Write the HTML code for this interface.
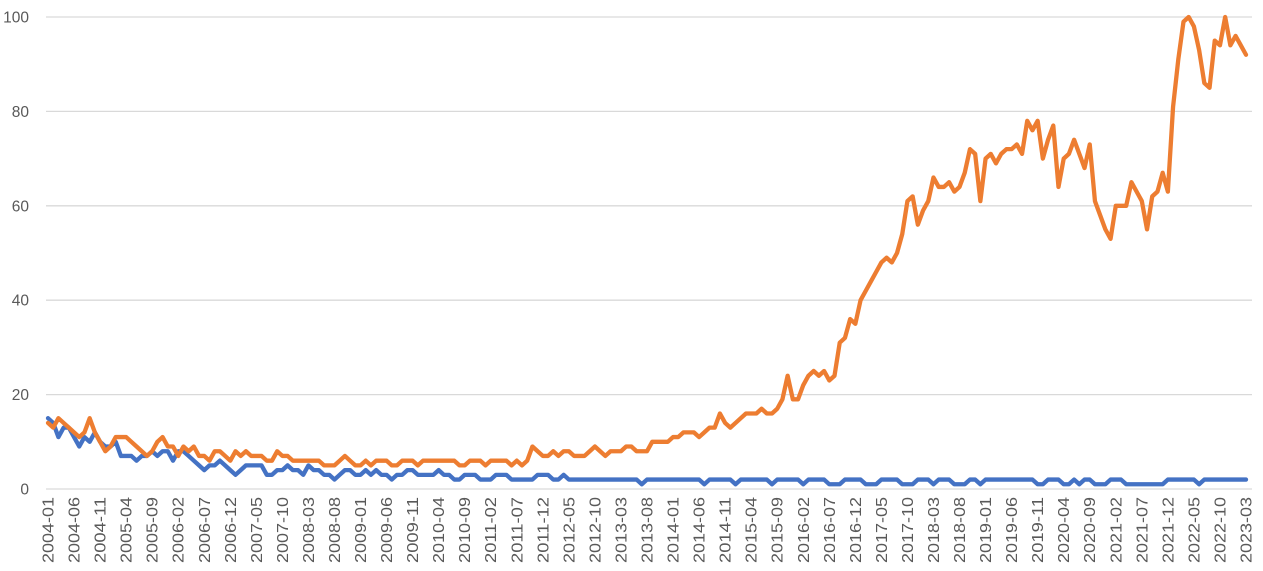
<!DOCTYPE html>
<html><head><meta charset="utf-8"><style>
html,body{margin:0;padding:0;background:#fff;}
svg{display:block;font-family:"Liberation Sans",sans-serif;}
</style></head><body>
<svg id="chart" width="1263" height="571" viewBox="0 0 1263 571">
<g id="grid"></g>
<g id="ylab"></g>
<g id="xlab"></g>
<g id="series"></g>
</svg>
<script>
const yTicks=[0,20,40,60,80,100];
const startYear=2004, startMonth=1, monthCount=231;
const blueValues=[15,14,11,13,13,11,9,11,10,12,10,9,9,10,7,7,7,6,7,7,8,7,8,8,6,8,8,7,6,5,4,5,5,6,5,4,3,4,5,5,5,5,3,3,4,4,5,4,4,3,5,4,4,3,3,2,3,4,4,3,3,4,3,4,3,3,2,3,3,4,4,3,3,3,3,4,3,3,2,2,3,3,3,2,2,2,3,3,3,2,2,2,2,2,3,3,3,2,2,3,2,2,2,2,2,2,2,2,2,2,2,2,2,2,1,2,2,2,2,2,2,2,2,2,2,2,1,2,2,2,2,2,1,2,2,2,2,2,2,1,2,2,2,2,2,1,2,2,2,2,1,1,1,2,2,2,2,1,1,1,2,2,2,2,1,1,1,2,2,2,1,2,2,2,1,1,1,2,2,1,2,2,2,2,2,2,2,2,2,2,1,1,2,2,2,1,1,2,1,2,2,1,1,1,2,2,2,1,1,1,1,1,1,1,1,2,2,2,2,2,2,1,2,2,2,2,2,2,2,2,2];
const orangeValues=[14,13,15,14,13,12,11,12,15,12,10,8,9,11,11,11,10,9,8,7,8,10,11,9,9,7,9,8,9,7,7,6,8,8,7,6,8,7,8,7,7,7,6,6,8,7,7,6,6,6,6,6,6,5,5,5,6,7,6,5,5,6,5,6,6,6,5,5,6,6,6,5,6,6,6,6,6,6,6,5,5,6,6,6,5,6,6,6,6,5,6,5,6,9,8,7,7,8,7,8,8,7,7,7,8,9,8,7,8,8,8,9,9,8,8,8,10,10,10,10,11,11,12,12,12,11,12,13,13,16,14,13,14,15,16,16,16,17,16,16,17,19,24,19,19,22,24,25,24,25,23,24,31,32,36,35,40,42,44,46,48,49,48,50,54,61,62,56,59,61,66,64,64,65,63,64,67,72,71,61,70,71,69,71,72,72,73,71,78,76,78,70,74,77,64,70,71,74,71,68,73,61,58,55,53,60,60,60,65,63,61,55,62,63,67,63,81,91,99,100,98,93,86,85,95,94,100,94,96,94,92];
const X0=48,X1=1246,Y0=489,Y100=17;
const xs=i=>X0+(X1-X0)*i/(monthCount-1);
const ys=v=>Y0-(Y0-Y100)*v/100;
const NS="http://www.w3.org/2000/svg";
const grid=document.getElementById('grid'),ylab=document.getElementById('ylab'),xlab=document.getElementById('xlab'),series=document.getElementById('series');
yTicks.forEach(t=>{
  const l=document.createElementNS(NS,'line');
  
  
  l.setAttribute('x1',46);l.setAttribute('x2',1252);
  l.setAttribute('y1',ys(t));l.setAttribute('y2',ys(t));
  l.setAttribute('stroke','#d9d9d9');l.setAttribute('stroke-width','1.3');
  grid.appendChild(l);
  const tx=document.createElementNS(NS,'text');
  
  
  tx.setAttribute('x',29);tx.setAttribute('y',ys(t)+5.5);
  tx.setAttribute('text-anchor','end');tx.setAttribute('font-size','15.5');tx.setAttribute('fill','#595959');
  tx.textContent=t;ylab.appendChild(tx);
});
for(let i=0;i<monthCount;i+=5){
  const m=startMonth-1+i, y=startYear+Math.floor(m/12), mo=m%12+1;
  const lbl=y+'-'+(mo<10?'0':'')+mo;
  const tx=document.createElementNS(NS,'text');
  
  
  const x=xs(i)+5.5;
  tx.setAttribute('transform','translate('+x+',497) rotate(-90)');
  tx.setAttribute('text-anchor','end');tx.setAttribute('font-size','15.5');tx.setAttribute('fill','#595959');
  tx.setAttribute('textLength','66');tx.setAttribute('lengthAdjust','spacingAndGlyphs');
  tx.textContent=lbl;xlab.appendChild(tx);
}
function drawLine(vals,color,name){
  const p=document.createElementNS(NS,'polyline');
  
  
  p.setAttribute('points',vals.map((v,i)=>xs(i).toFixed(2)+','+ys(v).toFixed(2)).join(' '));
  p.setAttribute('fill','none');p.setAttribute('stroke',color);p.setAttribute('stroke-width','4.3');
  p.setAttribute('stroke-linejoin','round');p.setAttribute('stroke-linecap','round');
  series.appendChild(p);
}
drawLine(blueValues,'#4472C4','blue-series-line');
drawLine(orangeValues,'#ED7D31','orange-series-line');
</script>
</body></html>
